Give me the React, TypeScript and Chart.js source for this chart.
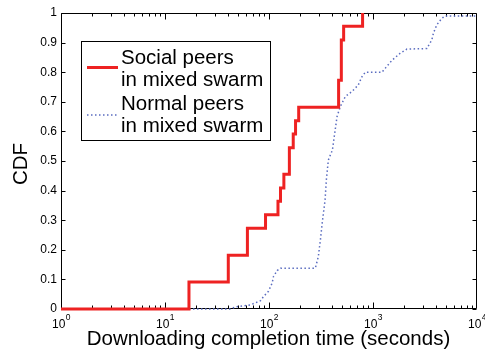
import React, { useEffect, useRef } from 'react';
import { Chart, registerables } from 'chart.js';

Chart.register(...registerables);

// Social peers in mixed swarm (empirical CDF, step after each completion time)
const socialTimes = [1, 17, 40.6, 62, 92.6, 122, 129, 139, 157, 171, 180, 193, 467, 496, 522, 794];
const socialCdf = [0, 0.091, 0.182, 0.273, 0.318, 0.364, 0.409, 0.455, 0.545, 0.591, 0.636, 0.682, 0.773, 0.909, 0.955, 1.0];

// Normal peers in mixed swarm
const normalTimes = [1, 42.7, 47.7, 66.5, 82.9, 88.5, 98.9, 107.3, 110.5, 119.9, 128.9, 279, 298, 312, 326, 346, 356, 372, 407, 451, 485, 542, 629, 722, 784, 843, 1219, 1361, 1520, 1825, 2117, 3289, 3678, 3812, 4106, 4585, 4933, 10000];
const normalCdf = [0, 0, 0.007, 0.014, 0.028, 0.042, 0.06, 0.088, 0.11, 0.13, 0.138, 0.138, 0.177, 0.233, 0.295, 0.368, 0.436, 0.503, 0.537, 0.65, 0.684, 0.718, 0.735, 0.757, 0.785, 0.8, 0.8, 0.82, 0.84, 0.864, 0.878, 0.88, 0.909, 0.932, 0.96, 0.982, 0.99, 0.99];

const xDecades = [0, 1, 2, 3, 4];
const yTicks = [0, 0.1, 0.2, 0.3, 0.4, 0.5, 0.6, 0.7, 0.8, 0.9, 1];
const yTickLabels = ['0', '0.1', '0.2', '0.3', '0.4', '0.5', '0.6', '0.7', '0.8', '0.9', '1'];

const seriesNames = [['Social peers', 'in mixed swarm'], ['Normal peers', 'in mixed swarm']];
const xTitle = 'Downloading completion time (seconds)';
const yTitle = 'CDF';

const RED = '#ee2222';
const BLUE = '#5a6cc0';
const FONT = '"Liberation Sans", Arial, Helvetica, sans-serif';

const framePlugin = {
  id: 'matlabFrame',
  beforeDatasetsDraw(chart: any) {
    const { ctx, chartArea: a, scales } = chart;
    const xs = scales.x;
    const ys = scales.y;
    ctx.save();
    ctx.strokeStyle = '#000';
    ctx.lineWidth = 1;
    const L = Math.round(a.left) + 0.5;
    const R = Math.round(a.right) - 0.5;
    const T = Math.round(a.top) + 0.5;
    const B = Math.round(a.bottom) - 0.5;
    ctx.beginPath();
    ctx.rect(L, T, R - L, B - T);
    ctx.stroke();
    // x ticks (inward, bottom and top)
    ctx.beginPath();
    for (let d = 0; d < 4; d++) {
      for (let m = 1; m <= 9; m++) {
        const v = m * Math.pow(10, d);
        const px = Math.round(xs.getPixelForValue(v)) + 0.5;
        const len = m === 1 ? 6 : 3;
        ctx.moveTo(px, B);
        ctx.lineTo(px, B - len);
        ctx.moveTo(px, T);
        ctx.lineTo(px, T + len);
      }
    }
    // y ticks (inward, left and right)
    yTicks.forEach((v) => {
      const py = Math.round(ys.getPixelForValue(v)) + 0.5;
      ctx.moveTo(L, py);
      ctx.lineTo(L + 4, py);
      ctx.moveTo(R, py);
      ctx.lineTo(R - 4, py);
    });
    ctx.stroke();
    ctx.restore();
  },
  afterDraw(chart: any) {
    const { ctx, chartArea: a, scales } = chart;
    const xs = scales.x;
    const ys = scales.y;
    ctx.save();
    ctx.fillStyle = '#000';
    // y tick labels
    ctx.font = `12px ${FONT}`;
    ctx.textAlign = 'right';
    ctx.textBaseline = 'middle';
    yTicks.forEach((v, i) => {
      ctx.fillText(yTickLabels[i], a.left - 4, ys.getPixelForValue(v));
    });
    // x tick labels 10^d
    ctx.textAlign = 'left';
    ctx.textBaseline = 'alphabetic';
    xDecades.forEach((d) => {
      const px = xs.getPixelForValue(Math.pow(10, d));
      ctx.font = `12px ${FONT}`;
      const w10 = ctx.measureText('10').width;
      ctx.font = `8.5px ${FONT}`;
      const we = ctx.measureText(String(d)).width;
      const start = px - (w10 + we) / 2;
      ctx.font = `12px ${FONT}`;
      ctx.fillText('10', start, a.bottom + 19);
      ctx.font = `8.5px ${FONT}`;
      ctx.fillText(String(d), start + w10 + 0.5, a.bottom + 11);
    });
    // axis titles
    ctx.font = `20.5px ${FONT}`;
    ctx.textAlign = 'center';
    ctx.textBaseline = 'middle';
    ctx.fillText(xTitle, 268.5, 339);
    ctx.save();
    ctx.translate(21, (a.top + a.bottom) / 2 + 3);
    ctx.rotate(-Math.PI / 2);
    ctx.fillText(yTitle, 0, 0);
    ctx.restore();

    // legend
    const bx = 81.5, by = 41.5, bw = 189, bh = 99;
    ctx.fillStyle = '#fff';
    ctx.fillRect(bx, by, bw, bh);
    ctx.strokeStyle = '#000';
    ctx.lineWidth = 1;
    ctx.strokeRect(bx, by, bw, bh);
    // samples
    ctx.strokeStyle = RED;
    ctx.lineWidth = 3;
    ctx.beginPath();
    ctx.moveTo(87, 67.5);
    ctx.lineTo(118, 67.5);
    ctx.stroke();
    ctx.strokeStyle = BLUE;
    ctx.lineWidth = 1.5;
    ctx.setLineDash([1.5, 2.5]);
    ctx.beginPath();
    ctx.moveTo(87, 115);
    ctx.lineTo(118, 115);
    ctx.stroke();
    ctx.setLineDash([]);
    ctx.fillStyle = '#000';
    ctx.font = `20.5px ${FONT}`;
    ctx.textAlign = 'left';
    ctx.textBaseline = 'middle';
    ctx.fillText(seriesNames[0][0], 121, 58);
    ctx.fillText(seriesNames[0][1], 121, 80);
    ctx.fillText(seriesNames[1][0], 121, 104);
    ctx.fillText(seriesNames[1][1], 121, 126);
    ctx.restore();
  },
};

export default function App() {
  const ref = useRef<HTMLCanvasElement | null>(null);
  useEffect(() => {
    if (!ref.current) return;
    const chart = new Chart(ref.current, {
      type: 'line',
      data: {
        datasets: [
          {
            label: seriesNames[0].join(' '),
            data: socialTimes.map((t, i) => ({ x: t, y: socialCdf[i] })),
            borderColor: RED,
            borderWidth: 3,
            stepped: 'before',
            pointRadius: 0,
            fill: false,
            clip: 4,
          },
          {
            label: seriesNames[1].join(' '),
            data: normalTimes.map((t, i) => ({ x: t, y: normalCdf[i] })),
            borderColor: BLUE,
            borderWidth: 1.5,
            borderDash: [1.5, 2.5],
            pointRadius: 0,
            fill: false,
            tension: 0,
            clip: 4,
          },
        ],
      },
      options: {
        responsive: false,
        animation: false,
        events: [],
        layout: { padding: { top: 13, right: 8, left: 0, bottom: 0 } },
        plugins: { legend: { display: false }, tooltip: { enabled: false } },
        scales: {
          x: {
            type: 'logarithmic',
            min: 1,
            max: 10000,
            ticks: { display: false },
            grid: { display: false },
            border: { display: false },
            afterFit(s: any) { s.height = 42; },
          },
          y: {
            min: 0,
            max: 1,
            ticks: { display: false },
            grid: { display: false },
            border: { display: false },
            afterFit(s: any) { s.width = 61; },
          },
        },
      } as any,
      plugins: [framePlugin],
    });
    return () => chart.destroy();
  }, []);
  return (
    <div style={{ position: 'absolute', left: 0, top: 0, width: 485, height: 351, background: '#fff' }}>
      <canvas ref={ref} width={485} height={351} style={{ width: 485, height: 351, display: 'block' }} />
    </div>
  );
}
